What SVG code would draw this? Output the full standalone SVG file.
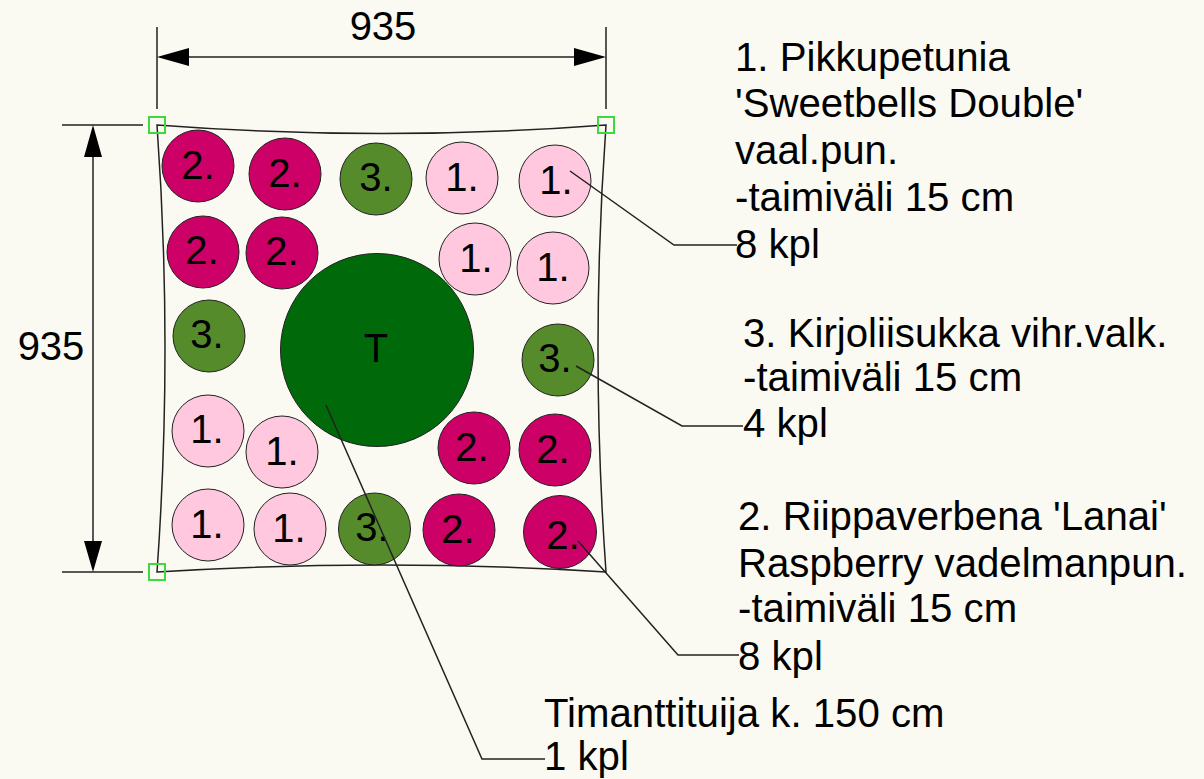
<svg xmlns="http://www.w3.org/2000/svg" width="1204" height="779" viewBox="0 0 1204 779">
<style>
text{font-family:"Liberation Sans",Arial,sans-serif;fill:#000}
.l{font-size:40.2px}
.n{font-size:40px;text-anchor:middle}
.p circle{stroke:#222;stroke-width:1}
.a{fill:#ffc8de}.b{fill:#cc0066}.c{fill:#558b2a}
.ln{fill:none;stroke:#222;stroke-width:1.5}
.h{fill:#000;stroke:none}
.g{fill:none;stroke:#3fd83f;stroke-width:2}
</style>
<rect width="1204" height="779" fill="#fafaf2"/>
<g id="plot-outline"><path class="ln" d="M157 125Q382 142 606 125Q590 348 606 572Q382 558 157 572Q173 348 157 125Z"/></g>
<g id="tree"><circle cx="377" cy="350" r="96.500" fill="#006a0a" stroke="#222"/><text class="n" x="376" y="362">T</text></g>
<g id="plants" class="p">
<g id="p1"><circle class="b" cx="198" cy="166" r="36"/><text class="n" x="198" y="179">2.</text></g>
<g id="p2"><circle class="b" cx="285" cy="174" r="36"/><text class="n" x="285" y="187">2.</text></g>
<g id="p3"><circle class="c" cx="376" cy="179" r="36"/><text class="n" x="376" y="191">3.</text></g>
<g id="p4"><circle class="a" cx="462" cy="178" r="36"/><text class="n" x="462" y="191">1.</text></g>
<g id="p5"><circle class="a" cx="555" cy="181" r="36"/><text class="n" x="556" y="194">1.</text></g>
<g id="p6"><circle class="b" cx="203" cy="252" r="36"/><text class="n" x="202" y="264">2.</text></g>
<g id="p7"><circle class="b" cx="282" cy="253" r="36"/><text class="n" x="282" y="265">2.</text></g>
<g id="p8"><circle class="a" cx="475" cy="259" r="36"/><text class="n" x="476" y="272">1.</text></g>
<g id="p9"><circle class="a" cx="553" cy="268" r="36"/><text class="n" x="553" y="281">1.</text></g>
<g id="p10"><circle class="c" cx="209" cy="336" r="36"/><text class="n" x="207" y="348">3.</text></g>
<g id="p11"><circle class="c" cx="558" cy="360" r="36"/><text class="n" x="555" y="372">3.</text></g>
<g id="p12"><circle class="a" cx="208" cy="431" r="36"/><text class="n" x="207" y="443">1.</text></g>
<g id="p13"><circle class="a" cx="282" cy="452" r="36"/><text class="n" x="282" y="465">1.</text></g>
<g id="p14"><circle class="b" cx="474" cy="448" r="36"/><text class="n" x="472" y="461">2.</text></g>
<g id="p15"><circle class="b" cx="555" cy="450" r="36"/><text class="n" x="553" y="463">2.</text></g>
<g id="p16"><circle class="a" cx="208" cy="525" r="36"/><text class="n" x="207" y="538">1.</text></g>
<g id="p17"><circle class="a" cx="290" cy="529" r="36"/><text class="n" x="289" y="542">1.</text></g>
<g id="p18"><circle class="c" cx="374.500" cy="529" r="36"/><text class="n" x="372" y="541">3.</text></g>
<g id="p19"><circle class="b" cx="459" cy="530" r="36"/><text class="n" x="458" y="543">2.</text></g>
<g id="p20"><circle class="b" cx="560" cy="532" r="36.500"/><text class="n" x="563" y="549">2.</text></g>
</g>
<g id="connectors">
<path class="ln" d="M157 27V109M606 27V109M62 125H143M62 572H143"/>
<path class="ln" d="M185 57H580M93 155V543"/>
<path class="h" d="M157 57L189 48V66ZM606 57L574 48V66ZM93 125L84 157H102ZM93 572L84 541H102Z"/>
<path class="ln" d="M570 171L674 245H737M576 366L682 426H743M578 541L678 655H739M326 405L482 759H545"/>
</g>
<g id="markers"><rect class="g" x="149" y="117" width="16" height="16"/><rect class="g" x="598" y="117" width="16" height="16"/><rect class="g" x="149" y="564" width="16" height="16"/></g>
<g id="labels">
<text class="n" x="383" y="40">935</text>
<text class="n" x="51" y="360">935</text>
<text class="l" x="735" y="71">1. Pikkupetunia</text>
<text class="l" x="735" y="117">'Sweetbells Double'</text>
<text class="l" x="735" y="164">vaal.pun.</text>
<text class="l" x="735" y="211">-taimiväli 15 cm</text>
<text class="l" x="735" y="258">8 kpl</text>
<text class="l" x="743" y="347">3. Kirjoliisukka vihr.valk.</text>
<text class="l" x="743" y="391">-taimiväli 15 cm</text>
<text class="l" x="743" y="437">4 kpl</text>
<text class="l" x="738" y="530">2. Riippaverbena 'Lanai'</text>
<text class="l" x="738" y="577">Raspberry vadelmanpun.</text>
<text class="l" x="738" y="622">-taimiväli 15 cm</text>
<text class="l" x="738" y="670">8 kpl</text>
<text class="l" x="544" y="727">Timanttituija k. 150 cm</text>
<text class="l" x="544" y="770">1 kpl</text>
</g>
</svg>
